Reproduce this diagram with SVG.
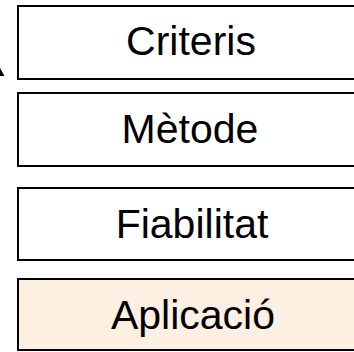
<svg xmlns="http://www.w3.org/2000/svg" width="354" height="352" viewBox="0 0 354 352">
<style>
.box{fill:#ffffff;stroke:#000000;stroke-width:2}
.hl{fill:#fdefe2}
.lbl{font-family:"Liberation Sans",Arial,sans-serif;font-size:41px;fill:#000000;text-anchor:middle}
</style>
<rect width="354" height="352" fill="#ffffff"/>
<g id="connectors">
<polygon points="0,68 4.5,76 0,76" fill="#000000"/>
</g>
<g id="criteris">
<rect class="box" x="18" y="6" width="400" height="73"/>
<text class="lbl" x="191" y="55">Criteris</text>
</g>
<g id="metode">
<rect class="box" x="18" y="93" width="400" height="73"/>
<text class="lbl" x="190" y="143">Mètode</text>
</g>
<g id="fiabilitat">
<rect class="box" x="18" y="188" width="400" height="72"/>
<text class="lbl" x="192" y="238">Fiabilitat</text>
</g>
<g id="aplicacio">
<rect class="box hl" x="18" y="279" width="400" height="71"/>
<text class="lbl" x="193" y="329">Aplicació</text>
</g>
</svg>
